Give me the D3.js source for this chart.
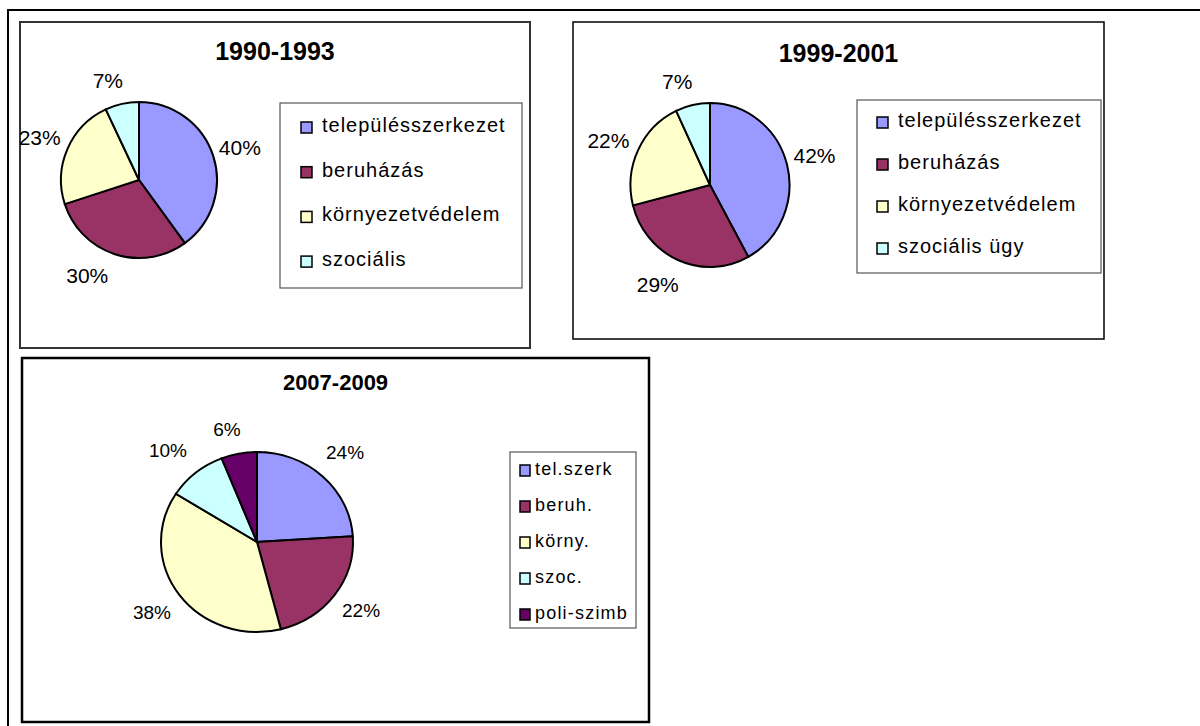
<!DOCTYPE html>
<html>
<head>
<meta charset="utf-8">
<script src="https://cdn.jsdelivr.net/npm/d3@7"></script>
<style>
  body { margin: 0; background: #fff; }
  svg { display: block; font-family: "Liberation Sans", Arial, Helvetica, sans-serif; }
</style>
</head>
<body>
<script>
// adatok
const titles = ['1990-1993', '1999-2001', '2007-2009'];
const cats1 = ['településszerkezet', 'beruházás', 'környezetvédelem', 'szociális'];
const vals1 = [40, 30, 23, 7];
const cats2 = ['településszerkezet', 'beruházás', 'környezetvédelem', 'szociális ügy'];
const vals2 = [42, 29, 22, 7];
const cats3 = ['tel.szerk', 'beruh.', 'körny.', 'szoc.', 'poli-szimb'];
const vals3 = [24, 22, 38, 10, 6];
const colors = ['#9999FF', '#993366', '#FFFFCC', '#CCFFFF', '#660066'];

// elrendezés (panelek, tortak, jelmagyarazatok)
// nudge: a cimkek kis eltolasa, ahogy az Excel elhelyezte oket
const panels = [
  { cats: cats1, vals: vals1, title: titles[0],
    box: [20, 22, 510, 326], frame: { stroke: '#333', w: 2 },
    titleY: 60, titleSize: 25,
    pie: { cx: 139, cy: 180, rx: 78, ry: 78, k: 1.36 }, labelSize: 21,
    nudge: [[0, 0], [-19, -5], [-2, 0], [-8, 4]],
    legend: { x: 280, y: 103, w: 242, h: 185, sw: 301, tx: 322, first: 132, step: 44.7, size: 20, ls: 1.0, swW: 11, swH: 11 } },
  { cats: cats2, vals: vals2, title: titles[1],
    box: [573, 22, 531, 317], frame: { stroke: '#000', w: 1.5 },
    titleY: 62, titleSize: 25,
    pie: { cx: 710, cy: 185, rx: 79.5, ry: 82, k: 1.37 }, labelSize: 21,
    nudge: [[-1, -2], [-9, -4], [-3, 3], [-9, 6]],
    legend: { x: 857, y: 100, w: 244, h: 173, sw: 877, tx: 898, first: 127, step: 42, size: 20, ls: 1.0, swW: 11, swH: 11 } },
  { cats: cats3, vals: vals3, title: titles[2],
    box: [22, 358, 627, 364], frame: { stroke: '#000', w: 2.5 },
    titleY: 390, titleSize: 22,
    pie: { cx: 257, cy: 542, rx: 96, ry: 90, k: 1.34 }, labelSize: 19,
    nudge: [[0, -2], [0, -3], [-1, -1], [-7, 1], [-6, 6]],
    legend: { x: 510, y: 452, w: 126, h: 176, sw: 520, tx: 535, first: 475, step: 36, size: 18, ls: 1.2, swW: 10, swH: 11 } }
];

const svg = d3.select('body').append('svg')
  .attr('width', 1200)
  .attr('height', 726);

// kulso keret
svg.append('rect')
  .attr('x', 8).attr('y', 10)
  .attr('width', 1200).attr('height', 730)
  .attr('fill', 'none')
  .attr('stroke', '#000')
  .attr('stroke-width', 2);

const pie = d3.pie().sort(null).value(d => d);

panels.forEach(function(p) {
  const g = svg.append('g');

  // panel keret
  g.append('rect')
    .attr('x', p.box[0]).attr('y', p.box[1])
    .attr('width', p.box[2]).attr('height', p.box[3])
    .attr('fill', '#fff')
    .attr('stroke', p.frame.stroke)
    .attr('stroke-width', p.frame.w);

  // cim
  g.append('text')
    .attr('x', p.box[0] + p.box[2] / 2)
    .attr('y', p.titleY)
    .attr('text-anchor', 'middle')
    .style('font-size', p.titleSize + 'px')
    .style('font-weight', 'bold')
    .text(p.title);

  // torta
  const arcs = pie(p.vals);
  const sy = p.pie.ry / p.pie.rx;
  const arc = d3.arc().innerRadius(0).outerRadius(p.pie.rx);
  const pg = g.append('g')
    .attr('transform', `translate(${p.pie.cx},${p.pie.cy}) scale(1,${sy})`);
  pg.selectAll('path')
    .data(arcs)
    .enter().append('path')
    .attr('d', arc)
    .attr('fill', (d, i) => colors[i])
    .attr('stroke', '#000')
    .attr('stroke-width', 2)
    .attr('vector-effect', 'non-scaling-stroke');

  // szazalek cimkek
  const labelArc = d3.arc()
    .innerRadius(p.pie.rx * p.pie.k)
    .outerRadius(p.pie.rx * p.pie.k);
  g.selectAll('text.pct')
    .data(arcs)
    .enter().append('text')
    .attr('class', 'pct')
    .attr('x', (d, i) => p.pie.cx + labelArc.centroid(d)[0] + p.nudge[i][0])
    .attr('y', (d, i) => p.pie.cy + labelArc.centroid(d)[1] * sy + p.nudge[i][1])
    .attr('dy', '0.36em')
    .attr('text-anchor', 'middle')
    .style('font-size', p.labelSize + 'px')
    .text(d => d.data + '%');

  // jelmagyarazat
  const L = p.legend;
  g.append('rect')
    .attr('x', L.x).attr('y', L.y)
    .attr('width', L.w).attr('height', L.h)
    .attr('fill', '#fff')
    .attr('stroke', '#555')
    .attr('stroke-width', 1.2);

  const item = g.selectAll('g.item')
    .data(p.cats)
    .enter().append('g')
    .attr('class', 'item')
    .attr('transform', (d, i) => `translate(0,${L.first + i * L.step})`);
  item.append('rect')
    .attr('x', L.sw).attr('y', -L.swH + 1)
    .attr('width', L.swW).attr('height', L.swH)
    .attr('fill', (d, i) => colors[i])
    .attr('stroke', '#000')
    .attr('stroke-width', 1.5);
  item.append('text')
    .attr('x', L.tx).attr('y', 0)
    .style('font-size', L.size + 'px')
    .style('letter-spacing', L.ls + 'px')
    .text(d => d);
});
</script>
</body>
</html>
